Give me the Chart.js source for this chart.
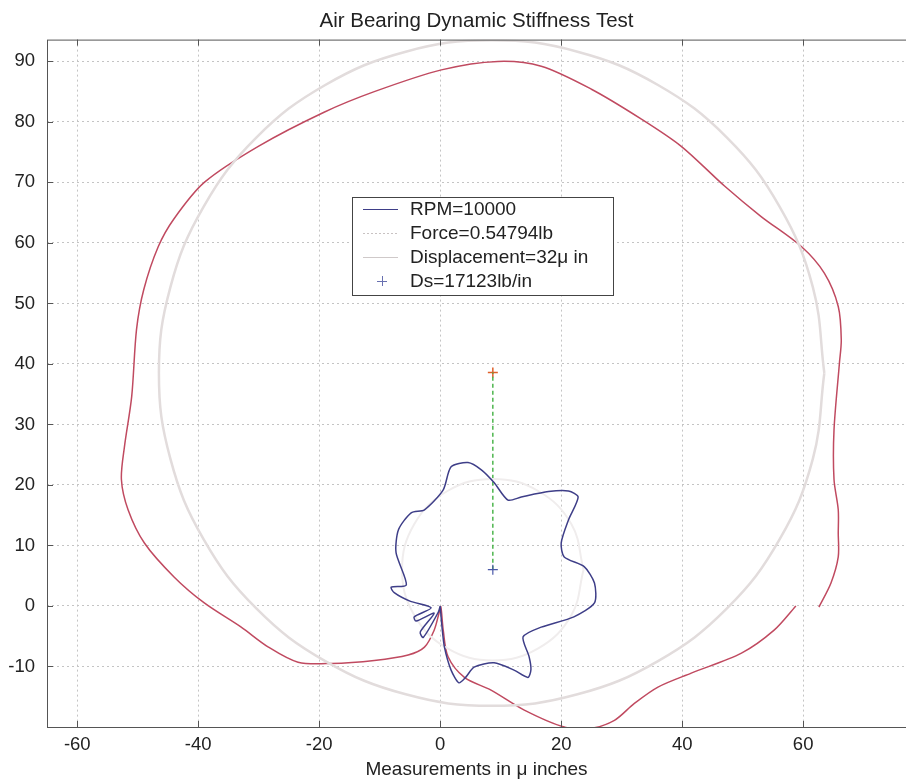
<!DOCTYPE html>
<html>
<head>
<meta charset="utf-8">
<title>Air Bearing Dynamic Stiffness Test</title>
<script src="https://cdn.jsdelivr.net/npm/chart.js@4.4.1/dist/chart.umd.min.js"></script>
<style>
  html, body { margin: 0; padding: 0; background: #fff; }
  #wrap { width: 906px; height: 781px; }
</style>
</head>
<body>
<div id="wrap"><canvas id="myChart" width="906" height="781"></canvas></div>
<script>
// axis limits (axis equal, like the matlab figure)
var xMin = -65, xMax = 77;
var yMin = -20, yMax = 93.6;
var xTicks = [-60, -40, -20, 0, 20, 40, 60];
var yTicks = [-10, 0, 10, 20, 30, 40, 50, 60, 70, 80, 90];

// red trace (starts at the right and runs counter clockwise)
var redX = [62.6, 64.6, 65.8, 65.8, 65.8, 65.1, 65.1, 66.0, 66.3, 65.8, 63.5, 59.7, 53.0, 47.0, 39.8, 33.2, 25.0, 16.7, 9.5, 0.2, -10.9, -19.2, -30.0, -39.0, -44.0, -46.6, -49.0, -50.2, -51.0, -52.2, -52.7, -51.6, -48.9, -44.0, -39.0, -32.9, -28.4, -23.5, -18.0, -10.9, -5.3, -2.6, -1.0, -0.2, 0.1, 0.5, 1.3, 4.0, 8.4, 13.9, 20.5, 25.0, 28.8, 32.1, 36.0, 41.5, 49.8, 55.2, 58.8];
var redY = [-0.2, 3.8, 8.1, 12.0, 15.9, 20.9, 29.1, 40.2, 44.0, 49.5, 55.0, 59.4, 64.4, 69.4, 76.0, 80.5, 85.4, 89.2, 90.0, 88.6, 85.0, 81.6, 76.0, 70.0, 64.0, 59.4, 52.3, 45.7, 34.6, 26.3, 20.9, 15.9, 10.4, 4.8, 0.5, -3.5, -6.8, -9.3, -9.5, -9.0, -8.1, -6.8, -4.0, -1.2, -0.1, -4.0, -8.4, -11.8, -13.9, -17.2, -20.0, -20.2, -18.9, -16.1, -13.4, -11.1, -7.8, -4.0, 0.0];

// blue trace, RPM=10000
var blueX = [0.0, 0.3, 0.7, 1.8, 3.1, 4.2, 5.6, 8.9, 12.2, 14.5, 15.0, 14.7, 13.7, 16.7, 22.1, 25.5, 25.5, 23.8, 20.5, 20.0, 21.2, 22.8, 21.2, 17.9, 13.4, 11.2, 8.9, 6.8, 4.6, 1.8, 0.5, -2.6, -4.8, -6.9, -7.3, -5.6, -8.1, -7.6, -5.0, -1.5, -4.3, -4.0, -1.0, -3.3, -2.8, -0.3, 0.0];
var blueY = [0.0, -3.5, -6.8, -10.6, -12.7, -11.8, -10.1, -9.4, -10.6, -11.8, -10.5, -8.4, -5.1, -3.5, -1.8, 0.5, 3.8, 6.5, 8.1, 10.4, 14.2, 18.0, 19.0, 18.9, 18.0, 17.5, 20.4, 22.5, 23.7, 23.0, 19.2, 15.9, 15.4, 12.6, 8.8, 3.5, 3.1, 2.2, 0.8, -0.3, -1.8, -2.5, -1.2, -4.3, -5.2, -1.0, 0.0];

// faint reference circles
var forceX = [23.7, 21.7, 16.2, 8.7, 1.2, -4.3, -6.3, -4.3, 1.2, 8.7, 16.2, 21.7, 23.7];
var forceY = [6.0, 13.5, 19.0, 21.0, 19.0, 13.5, 6.0, -1.5, -7.0, -9.0, -7.0, -1.5, 6.0];
var dispX = [63.5, 61.6, 56.1, 47.4, 36.0, 22.7, 8.5, -5.7, -19.0, -30.4, -39.1, -44.6, -46.5, -44.6, -39.1, -30.4, -19.0, -5.7, 8.5, 22.7, 36.0, 47.4, 56.1, 61.6, 63.5];
var dispY = [38.5, 52.7, 66.0, 77.4, 86.1, 91.6, 93.5, 91.6, 86.1, 77.4, 66.0, 52.7, 38.5, 24.3, 11.0, -0.4, -9.1, -14.6, -16.5, -14.6, -9.1, -0.4, 11.0, 24.3, 38.5];

// centres and displacement line
var centreX = [8.7, 8.7];
var centreY = [6.0, 38.6];

function toPoints(xs, ys) {
  return xs.map(function(x, i) { return { x: x, y: ys[i] }; });
}

var font = '"Liberation Sans", Arial, Helvetica, sans-serif';

// legend drawn inside the axes like matlab does
var legendBox = {
  id: 'legendBox',
  afterDatasetsDraw: function(chart) {
    var c = chart.ctx;
    var left = 352, top = 197, w = 261, h = 98;
    c.save();
    c.fillStyle = '#fff';
    c.fillRect(left, top, w, h);
    c.strokeStyle = '#444';
    c.lineWidth = 1;
    c.strokeRect(left + 0.5, top + 0.5, w, h);
    c.font = '19px ' + font;
    c.textBaseline = 'middle';
    var items = chart.data.datasets.filter(function(d) { return d.inLegend; });
    items.forEach(function(d, i) {
      var y = Math.round(top + 12 + i * 24);
      if (d.showLine) {
        c.strokeStyle = d.legendColor || d.borderColor;
        c.lineWidth = 1;
        c.setLineDash(d.legendDash || []);
        c.beginPath();
        c.moveTo(left + 11, y + 0.5);
        c.lineTo(left + 46, y + 0.5);
        c.stroke();
        c.setLineDash([]);
      } else {
        c.strokeStyle = d.legendColor || d.borderColor;
        c.lineWidth = 1;
        c.beginPath();
        c.moveTo(left + 25, y + 0.5);
        c.lineTo(left + 35, y + 0.5);
        c.moveTo(left + 30.5, y - 5);
        c.lineTo(left + 30.5, y + 5);
        c.stroke();
      }
      c.fillStyle = '#222';
      c.fillText(d.label, left + 58, y + 1);
    });
    c.restore();
  }
};

// axes box with inward tick marks
var axesBox = {
  id: 'axesBox',
  afterDraw: function(chart) {
    var a = chart.chartArea, c = chart.ctx;
    var xs = chart.scales.x, ys = chart.scales.y;
    c.save();
    c.strokeStyle = '#555';
    c.lineWidth = 1;
    c.strokeRect(a.left + 0.5, a.top + 0.5, a.right - a.left, a.bottom - a.top);
    c.beginPath();
    xTicks.forEach(function(v) {
      var px = Math.round(xs.getPixelForValue(v)) + 0.5;
      c.moveTo(px, a.bottom); c.lineTo(px, a.bottom - 6);
      c.moveTo(px, a.top); c.lineTo(px, a.top + 6);
    });
    yTicks.forEach(function(v) {
      var py = Math.round(ys.getPixelForValue(v)) + 0.5;
      c.moveTo(a.left, py); c.lineTo(a.left + 6, py);
    });
    c.stroke();
    c.restore();
  }
};

var ctx = document.getElementById('myChart').getContext('2d');
var myChart = new Chart(ctx, {
  type: 'scatter',
  data: {
    datasets: [
      {
        label: 'RPM=10000',
        inLegend: true,
        data: toPoints(blueX, blueY),
        showLine: true,
        borderColor: '#3e3e88',
        borderWidth: 1.5,
        pointRadius: 0,
        tension: 0.25
      },
      {
        label: 'Force=0.54794lb',
        inLegend: true,
        legendColor: '#c8c2c2',
        legendDash: [2, 2],
        data: toPoints(forceX, forceY),
        showLine: true,
        borderColor: '#f0eded',
        borderWidth: 2,
        pointRadius: 0,
        tension: 0.4
      },
      {
        label: 'Displacement=32\u03bc in',
        inLegend: true,
        legendColor: '#cfc9c9',
        data: toPoints(dispX, dispY),
        showLine: true,
        borderColor: '#e2dcdc',
        borderWidth: 2.5,
        pointRadius: 0,
        tension: 0.4
      },
      {
        label: 'Ds=17123lb/in',
        inLegend: true,
        legendColor: '#6870b0',
        data: toPoints(centreX.slice(0, 1), centreY.slice(0, 1)),
        showLine: false,
        borderColor: '#4a58a8',
        pointStyle: 'cross',
        pointRadius: 5,
        pointBorderWidth: 1.2
      },
      {
        label: 'bearing',
        data: toPoints(redX, redY),
        showLine: true,
        borderColor: '#c04a60',
        borderWidth: 1.5,
        pointRadius: 0,
        tension: 0.3
      },
      {
        label: 'displacement line',
        data: toPoints(centreX, centreY),
        showLine: true,
        borderColor: '#40b040',
        borderWidth: 1.4,
        borderDash: [4, 3],
        pointRadius: 0
      },
      {
        label: 'centre',
        data: toPoints(centreX.slice(1), centreY.slice(1)),
        showLine: false,
        borderColor: '#e0602a',
        pointStyle: 'cross',
        pointRadius: 5,
        pointBorderWidth: 1.5
      }
    ]
  },
  options: {
    responsive: false,
    animation: false,
    devicePixelRatio: 1,
    layout: { padding: 0, autoPadding: false },
    plugins: {
      legend: { display: false },
      tooltip: { enabled: false },
      title: {
        display: true,
        fullSize: false,
        text: 'Air Bearing Dynamic Stiffness Test',
        color: '#222',
        font: { family: font, size: 20.5, weight: 'normal' },
        padding: { top: 9, bottom: 6 }
      }
    },
    scales: {
      x: {
        type: 'linear',
        min: xMin,
        max: xMax,
        afterBuildTicks: function(scale) {
          scale.ticks = xTicks.map(function(v) { return { value: v }; });
        },
        afterFit: function(scale) {
          scale.height = 54;
          scale.paddingLeft = 0;
          scale.paddingRight = 0;
        },
        grid: { color: '#c4c4c4', lineWidth: 1, drawTicks: false },
        border: { display: false, dash: [2, 3] },
        ticks: { color: '#222', padding: 7, font: { family: font, size: 18.5 } },
        title: {
          display: true,
          text: 'Measurements in \u03bc inches',
          color: '#222',
          font: { family: font, size: 19 },
          padding: { top: 0, bottom: 0 }
        }
      },
      y: {
        type: 'linear',
        min: yMin,
        max: yMax,
        afterBuildTicks: function(scale) {
          scale.ticks = yTicks.map(function(v) { return { value: v }; });
        },
        afterFit: function(scale) {
          scale.width = 47;
          scale.paddingTop = 0;
          scale.paddingBottom = 0;
        },
        grid: { color: '#c4c4c4', lineWidth: 1, drawTicks: false },
        border: { display: false, dash: [2, 3] },
        ticks: { color: '#222', padding: 12, font: { family: font, size: 18.5 } }
      }
    }
  },
  plugins: [legendBox, axesBox]
});
</script>
</body>
</html>
